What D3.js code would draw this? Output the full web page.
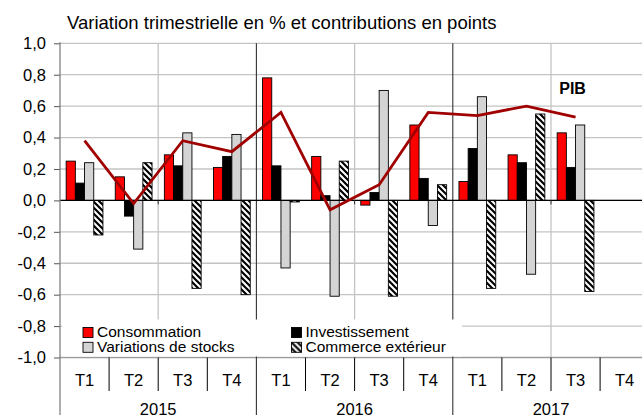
<!DOCTYPE html>
<html><head><meta charset="utf-8">
<script src="https://cdn.jsdelivr.net/npm/d3@7"></script>
<style>
html,body{margin:0;padding:0;background:#fff;}
svg{display:block;font-family:"Liberation Sans",Arial,sans-serif;}
</style></head>
<body>
<svg id="chart" width="642" height="415"></svg>
<script>
const years = ["2015","2016","2017"];
const quarterLabels = ["T1","T2","T3","T4"];
const consommation = [0.25,0.15,0.29,0.21, 0.78,0.28,-0.03,0.48, 0.12,0.29,0.43,null];
const investissement = [0.11,-0.10,0.22,0.28, 0.22,0.03,0.05,0.14, 0.33,0.24,0.21,null];
const stocks = [0.24,-0.31,0.43,0.42, -0.43,-0.61,0.70,-0.16, 0.66,-0.47,0.48,null];
const commerce = [-0.22,0.24,-0.56,-0.60, -0.01,0.25,-0.61,0.10, -0.56,0.55,-0.58,null];
const pib = [0.38,-0.02,0.38,0.31, 0.56,-0.06,0.10,0.56, 0.54,0.60,0.53,null];
const yTicks = [-1.0,-0.8,-0.6,-0.4,-0.2,0.0,0.2,0.4,0.6,0.8,1.0];
const seriesNames = ["Consommation","Investissement","Variations de stocks","Commerce extérieur"];
const titleText = "Variation trimestrielle en % et contributions en points";

const svg = d3.select("#chart");
const defs = svg.append("defs");
const pat = defs.append("pattern").attr("id","hatch").attr("patternUnits","userSpaceOnUse")
  .attr("width",6).attr("height",6);
pat.append("rect").attr("width",6).attr("height",6).attr("fill","#fff");
pat.append("path").attr("d","M-1,-1 L7,7 M-4,2 L2,8 M2,-4 L8,2").attr("stroke","#000").attr("stroke-width",2.2);

const quarters = d3.range(12);
const left = 60, right = 649.2;
const x = d3.scaleBand().domain(quarters).range([left, right]).padding(0);
const xs = d3.scaleBand().domain(d3.range(4)).range([0, x.bandwidth()]).paddingInner(0).paddingOuter(0.67);
const y = d3.scaleLinear().domain([-1,1]).range([357.5, 43.3]);
const qw = x.bandwidth();

// horizontal grid
svg.append("g").selectAll("line").data(yTicks).join("line")
  .attr("x1",left).attr("x2",642).attr("y1",d=>y(d)).attr("y2",d=>y(d))
  .attr("stroke", d=> d===-1.0 ? "#9a9a9a" : "#c4c4c4").attr("stroke-width",1.3);

// vertical half-year gridlines
const halfYears = [2,6,10];
svg.append("g").selectAll("line").data(halfYears).join("line")
  .attr("x1",d=>x(d)).attr("x2",d=>x(d)).attr("y1",y(1)).attr("y2",y(-1))
  .attr("stroke","#c4c4c4").attr("stroke-width",1.3);
// year separators
const yearStarts = [4,8];
svg.append("g").selectAll("line").data(yearStarts).join("line")
  .attr("x1",d=>x(d)).attr("x2",d=>x(d)).attr("y1",y(1)).attr("y2",415)
  .attr("stroke","#333").attr("stroke-width",1.1);

// bars
const series = [
  {vals:consommation, fill:"#ff0000"},
  {vals:investissement, fill:"#000000"},
  {vals:stocks, fill:"#d4d4d4"},
  {vals:commerce, fill:"url(#hatch)"}
];
series.forEach((s,si)=>{
  svg.append("g").selectAll("rect").data(quarters.filter(q=>s.vals[q]!==null)).join("rect")
    .attr("x", q=> x(q)+xs(si))
    .attr("width", xs.bandwidth())
    .attr("y", q=> y(Math.max(0,s.vals[q])))
    .attr("height", q=> Math.abs(y(s.vals[q])-y(0)))
    .attr("fill", s.fill).attr("stroke","#000").attr("stroke-width",0.9);
});

// zero line
svg.append("line").attr("x1",left).attr("x2",642).attr("y1",y(0)).attr("y2",y(0))
  .attr("stroke","#000").attr("stroke-width",1.3);
svg.append("g").selectAll("line").data(halfYears).join("line")
  .attr("x1",d=>x(d)).attr("x2",d=>x(d)).attr("y1",y(0)).attr("y2",y(0)+4)
  .attr("stroke","#333").attr("stroke-width",1);

// PIB line
const line = d3.line().defined(d=>d!==null).x((d,i)=>x(i)+qw/2).y(d=>y(d));
svg.append("path").datum(pib).attr("d",line).attr("fill","none")
  .attr("stroke","#a00000").attr("stroke-width",2.8).attr("stroke-linejoin","miter");

svg.append("text").attr("x",x(10)+qw/2-3).attr("y",94).attr("text-anchor","middle")
  .attr("font-weight","bold").attr("font-size",16).text("PIB");

// legend background
svg.append("rect").attr("x",62).attr("y",319.5).attr("width",400).attr("height",37)
  .attr("fill","#fff");
const legendPos = [[83,327.5],[291.5,327.5],[83,342.3],[291.5,342.3]];
const legendFill = ["#ff0000","#000000","#d4d4d4","url(#hatch)"];
const lg = svg.append("g").selectAll("g").data(seriesNames).join("g")
  .attr("transform",(d,i)=>`translate(${legendPos[i][0]},${legendPos[i][1]})`);
lg.append("rect").attr("width",10).attr("height",10).attr("fill",(d,i)=>legendFill[i])
  .attr("stroke","#000").attr("stroke-width",0.9);
lg.append("text").attr("x",14).attr("y",9.8).attr("font-size",15.5).text(d=>d);

// y axis
const yAxis = d3.axisLeft(y).tickValues(yTicks).tickSize(6).tickPadding(8)
  .tickFormat(d=> (Math.abs(d)<1e-9 ? "0.0" : d.toFixed(1)).replace(".", ","));
const ya = svg.append("g").attr("transform",`translate(${left},0)`).call(yAxis);
ya.select(".domain").remove();
ya.selectAll(".tick line").attr("stroke","#555");
ya.selectAll(".tick text").attr("font-size",16.5).attr("fill","#000")
  .attr("font-family","'Liberation Sans',Arial,sans-serif");
svg.append("line").attr("x1",left).attr("x2",left).attr("y1",y(1)-1).attr("y2",415)
  .attr("stroke","#777").attr("stroke-width",1.2);

// category axis
const qTicks = d3.range(1,12).filter(q=>q%4!==0);
svg.append("g").selectAll("line").data(qTicks).join("line")
  .attr("x1",d=>x(d)).attr("x2",d=>x(d)).attr("y1",y(-1)).attr("y2",391)
  .attr("stroke","#000").attr("stroke-width",1);
svg.append("g").selectAll("text").data(quarters).join("text")
  .attr("x",q=>x(q)+qw/2).attr("y",386).attr("text-anchor","middle")
  .attr("font-size",16.5).text(q=>quarterLabels[q%4]);
svg.append("g").selectAll("text").data(years).join("text")
  .attr("x",(d,i)=>x(i*4)+qw*2).attr("y",414.5).attr("text-anchor","middle")
  .attr("font-size",16.5).text(d=>d);

// title
svg.append("text").attr("x",67).attr("y",29).attr("font-size",18.5).text(titleText);
</script>
</body></html>
